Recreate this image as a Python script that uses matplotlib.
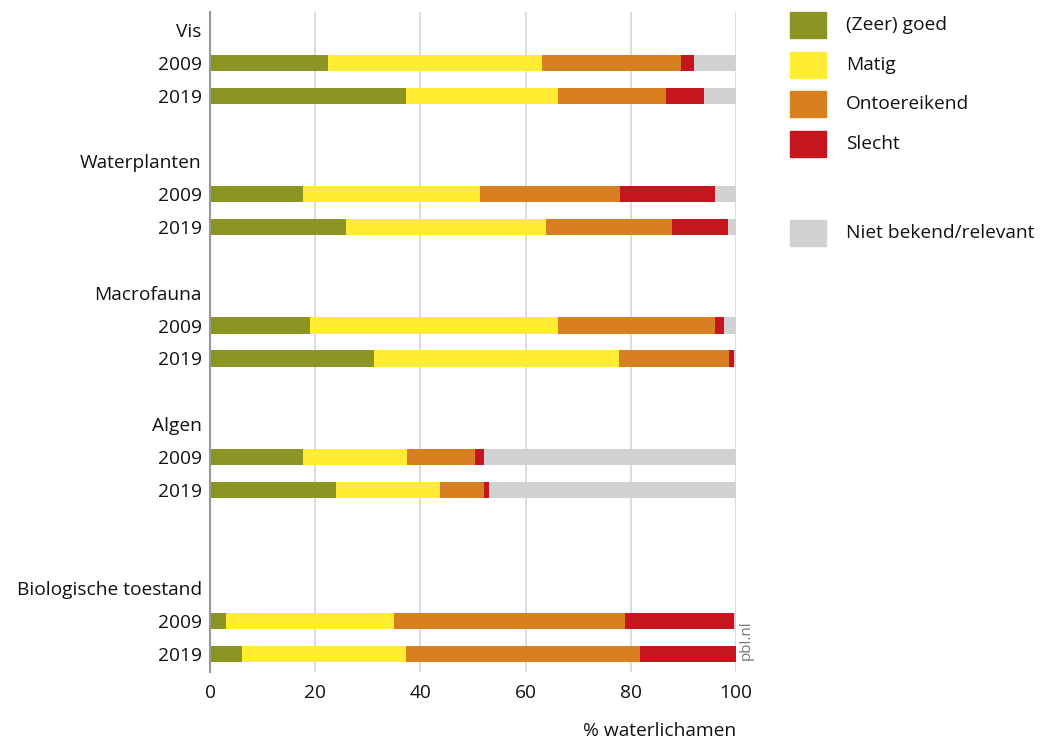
import matplotlib.pyplot as plt
from matplotlib.patches import Rectangle

plt.rcParams['font.family'] = ['Open Sans', 'DejaVu Sans']

# rows: group header followed by 2009 / 2019 bars
groups = ['Vis', 'Waterplanten', 'Macrofauna', 'Algen', 'Biologische toestand']
years = ['2009', '2019']
categories = ['(Zeer) goed', 'Matig', 'Ontoereikend', 'Slecht', 'Niet bekend/relevant']
colors = ['#8c9424', '#ffec33', '#d88020', '#c4161c', '#d0d1d0']

# % waterlichamen per category, order: 2009, 2019 for each group
goed = [22.5, 37.2, 17.6, 25.8, 19.1, 31.1, 17.6, 24.0, 3.0, 6.1]
matig = [40.7, 29.0, 33.7, 38.1, 47.0, 46.6, 19.8, 19.7, 32.0, 31.1]
ontoereikend = [26.3, 20.4, 26.6, 24.0, 29.9, 21.0, 12.9, 8.4, 43.9, 44.6]
slecht = [2.6, 7.4, 18.2, 10.6, 1.8, 0.9, 1.7, 0.9, 20.8, 18.2]
onbekend = [7.9, 6.0, 3.9, 1.5, 2.2, 0.4, 48.0, 47.0, 0.3, 0.0]
series = [goed, matig, ontoereikend, slecht, onbekend]

header_pos = [0, 4, 8, 12, 17]

fs = 13.8
fig = plt.figure(figsize=(10.41, 7.40), dpi=100)
ax = fig.add_axes([210 / 1041, 1 - 672 / 740, 526 / 1041, 660 / 740])

bar_pos = []
ticks, ticklabels = [], []
for g, hp in zip(groups, header_pos):
    ticks.append(hp)
    ticklabels.append(g)
    for k, yr in enumerate(years):
        bar_pos.append(hp + 1 + k)
        ticks.append(hp + 1 + k)
        ticklabels.append(yr)

left = [0.0] * len(bar_pos)
for vals, col, cat in zip(series, colors, categories):
    ax.barh(bar_pos, vals, left=left, height=0.5, color=col, label=cat, zorder=3)
    left = [l + v for l, v in zip(left, vals)]

ax.set_xlim(0, 100)
ax.set_ylim(19.55, -0.55)
ax.set_xticks([0, 20, 40, 60, 80, 100])
ax.set_yticks(ticks)
ax.set_yticklabels(ticklabels, fontsize=fs, color='#111111')
ax.tick_params(axis='y', length=0, pad=6)
ax.tick_params(axis='x', length=0, pad=9, labelsize=fs, labelcolor='#111111')
ax.grid(axis='x', color='#d6d6d6', linewidth=1.2, zorder=0)
for s in ['top', 'right', 'bottom']:
    ax.spines[s].set_visible(False)
ax.spines['left'].set_color('#999999')
ax.spines['left'].set_linewidth(1.5)
ax.spines['left'].set_zorder(4)

fig.text(736 / 1041, 1 - 731 / 740, '% waterlichamen', ha='right', va='center',
         fontsize=fs, color='#111111')
fig.text(746 / 1041, 1 - 640 / 740, 'pbl.nl', rotation=90, ha='center', va='center',
         fontsize=11, color='#777777')

# legend drawn by hand to keep the gap before the last entry
leg_y = [25, 65, 104, 144, 233]
for cat, col, yy in zip(categories, colors, leg_y):
    fig.patches.append(Rectangle((790 / 1041, 1 - (yy + 13) / 740), 36 / 1041, 26 / 740,
                                 transform=fig.transFigure, color=col))
    fig.text(846 / 1041, 1 - yy / 740, cat, ha='left', va='center',
             fontsize=fs, color='#111111')

fig.savefig('out.png', dpi=100)
